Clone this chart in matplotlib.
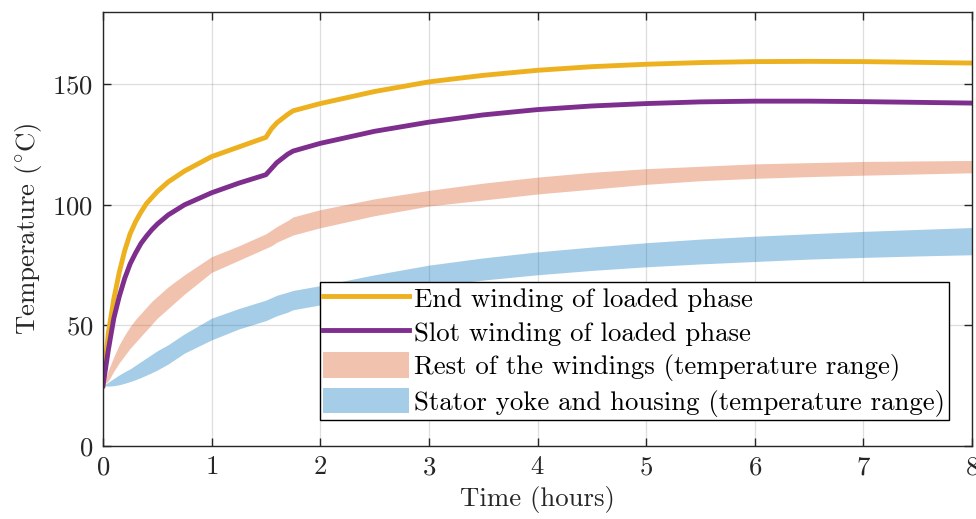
import matplotlib
matplotlib.use("Agg")
import matplotlib.pyplot as plt
from matplotlib.patches import Patch
from matplotlib.lines import Line2D

plt.rcParams['font.family'] = 'cmr10'
plt.rcParams['mathtext.fontset'] = 'cm'
plt.rcParams['axes.formatter.use_mathtext'] = True

# time (hours)
t = [0, 0.05, 0.1, 0.15, 0.2, 0.25, 0.3, 0.35, 0.4, 0.45, 0.5, 0.6, 0.75, 1.0, 1.25, 1.5,
     1.55, 1.6, 1.7, 1.75, 2.0, 2.5, 3, 3.5, 4, 4.5, 5, 5.5, 6, 6.5, 7, 7.5, 8]

end_winding = [25, 47, 61, 72, 81, 88, 93, 97, 100.5, 103, 105.5, 109.5, 114, 120, 124, 128,
               131.5, 134, 137.5, 139, 142, 147, 151, 153.7, 155.8, 157.3, 158.3,
               159, 159.4, 159.5, 159.4, 159.1, 158.8]
slot_winding = [25, 40, 53, 62, 69.5, 75.5, 80, 84, 87, 89.7, 92, 95.8, 100, 105, 109, 112.5,
                115, 117.5, 121, 122.3, 125.5, 130.5, 134.3, 137.3, 139.5, 141, 142,
                142.7, 143, 143, 142.8, 142.5, 142.2]

rest_hi = [25, 31.5, 37, 42, 46, 49.5, 52.5, 55, 57.5, 60, 62, 66, 71, 78.5, 83, 88,
           89.5, 91, 93.5, 95, 98, 102.5, 106, 109, 111.5, 113.5, 115, 116, 117,
           117.5, 118, 118.2, 118.4]
rest_lo = [25, 27, 31, 34.5, 37.5, 40.5, 43, 45.5, 48, 50.5, 53, 57, 63, 72, 77, 82,
           83, 84.5, 86.5, 87.5, 90.5, 95.5, 99.5, 102, 104.5, 106.5, 108.5, 110, 111,
           111.7, 112.3, 112.8, 113.3]

stator_hi = [25, 26.5, 28, 29.5, 30.8, 32, 33.5, 35, 36.5, 38, 39.5, 42, 46.5, 53, 57, 60.5,
             61.5, 62.5, 63.8, 64.5, 66.5, 71, 75, 78, 80.5, 82.5, 84.3, 85.8, 87,
             88, 89, 89.8, 90.6]
stator_lo = [25, 24.8, 25, 25.4, 26, 26.7, 27.5, 28.4, 29.4, 30.4, 31.5, 34, 38.5, 44, 48.5, 52,
             53, 54, 55.5, 56.5, 58.5, 62.5, 66, 68.8, 71, 72.8, 74.3, 75.5, 76.5,
             77.5, 78.2, 78.8, 79.3]

labels = ["End winding of loaded phase",
          "Slot winding of loaded phase",
          "Rest of the windings (temperature range)",
          "Stator yoke and housing (temperature range)"]

c_end = '#EDB120'
c_slot = '#7E2F8E'
c_rest = '#D95319'
c_stat = '#0072BD'
axc = '#262626'
fs = 19.3

fig = plt.figure(figsize=(9.76, 5.19), dpi=100)
ax = fig.add_axes([0.1055, 0.1407, 0.8905, 0.8363])

ax.fill_between(t, rest_lo, rest_hi, color=c_rest, alpha=0.35, lw=0)
ax.fill_between(t, stator_lo, stator_hi, color=c_stat, alpha=0.35, lw=0)
ax.plot(t, end_winding, color=c_end, lw=3.5)
ax.plot(t, slot_winding, color=c_slot, lw=3.5)

ax.set_xlim(0, 8)
ax.set_ylim(0, 180)
ax.set_xticks(range(0, 9))
ax.set_yticks([0, 50, 100, 150])
ax.grid(True, color=(0.15, 0.15, 0.15), alpha=0.15, lw=0.9)
ax.set_axisbelow(True)

for s in ax.spines.values():
    s.set_color(axc)
    s.set_linewidth(1.0)
ax.tick_params(direction='in', length=6, width=1, color=axc, labelcolor=axc,
               labelsize=fs, top=True, right=True, pad=7)

ax.set_xlabel("Time (hours)", fontsize=fs, color=axc, labelpad=5)
ax.set_ylabel(r"Temperature ($^{\circ}$C)", fontsize=fs, color=axc, labelpad=6)

handles = [Line2D([], [], color=c_end, lw=3.5),
           Line2D([], [], color=c_slot, lw=3.5),
           Patch(facecolor=c_rest, alpha=0.35, lw=0),
           Patch(facecolor=c_stat, alpha=0.35, lw=0)]
leg = ax.legend(handles, labels, loc='lower left', bbox_to_anchor=(0.2497, 0.06),
                borderaxespad=0, fontsize=fs, fancybox=False, framealpha=1,
                edgecolor='black', handlelength=3.2, handleheight=1.1,
                handletextpad=0.2, labelspacing=0.24, borderpad=0.12)
leg.get_frame().set_linewidth(1.0)

fig.savefig("out.png", dpi=100)
